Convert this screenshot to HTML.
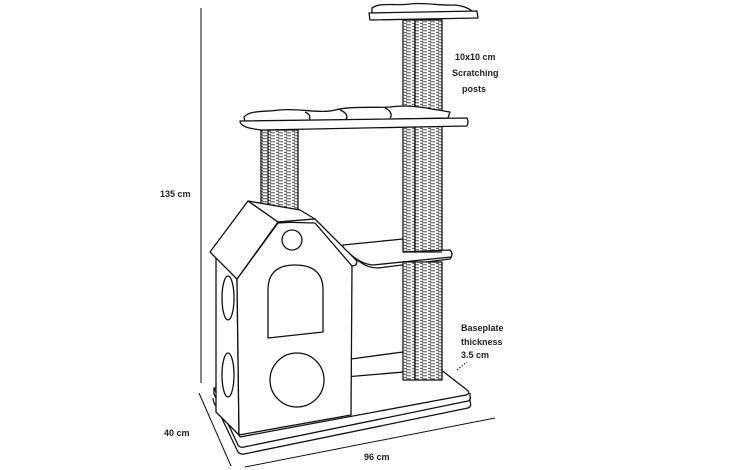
<!DOCTYPE html>
<html><head><meta charset="utf-8"><style>
html,body{margin:0;padding:0;background:#fff;width:730px;height:470px;overflow:hidden}
text{font-family:"Liberation Sans",sans-serif;font-weight:bold;font-size:9px;fill:#222}
</style></head><body>
<svg width="730" height="470" viewBox="0 0 730 470" xmlns="http://www.w3.org/2000/svg">
<defs>
<pattern id="rope" width="8" height="3" patternUnits="userSpaceOnUse">
<rect width="8" height="3" fill="#fff"/>
<path d="M0 0.8h3M4 2.3h3M6 0.8h2" stroke="#333" stroke-width="0.9"/>
</pattern>
</defs>
<g fill="none" stroke="#111" stroke-width="1.3" stroke-linejoin="round">
<line x1="201" y1="8" x2="201" y2="383" stroke-width="1"/>
<line x1="199" y1="393" x2="231" y2="466" stroke-width="1"/>
<line x1="245" y1="467" x2="495" y2="418" stroke-width="1"/>
<line x1="457" y1="370" x2="467" y2="362" stroke-dasharray="1.5 1.5" stroke-width="1"/>
<path d="M213 398 Q213 402 216 406 L237 450 Q239 455 244 454 L468 408 Q472 406 470 402 L470 396" fill="#fff"/>
<path d="M214 388 L214 394 L238 445 Q240 448 244 447 L468 401 Q471 400 470 396 L470 393" fill="#fff"/>
<path d="M214 388 L240 437 L466 395 Q471 393 467 390 L440 369 L214 388 Z" fill="#fff"/>
<path d="M351 359 L403 352"/>
<path d="M372 8 C380 2 395 6 410 4 C425 2 440 6 455 5 C465 6 472 10 472 12 L372 13 Z" fill="#fff"/>
<path d="M369 13 L477 11 L478 18 L370 20 Z" fill="#fff"/>
<rect x="403" y="20" width="39" height="232" fill="url(#rope)"/>
<line x1="415" y1="20" x2="415" y2="252"/>
<rect x="261" y="130" width="37" height="82" fill="url(#rope)"/>
<line x1="268" y1="130" x2="268" y2="212"/>
<path d="M244 117 C250 110 265 112 280 110 C300 108 320 114 335 110 C350 106 370 108 390 107 C410 104 425 108 450 112 L448 118 L245 122 Z" fill="#fff"/>
<path d="M305 112 C312 115 310 120 308 121 M340 110 C348 113 348 118 345 120 M385 108 C392 111 392 116 390 118"/>
<path d="M240 121 L467 118 Q469 122 467 126 L262 130 Q240 128 240 121 Z" fill="#fff"/>
<path d="M343 245 L403 239 L403 252 L450 250 Q454 254 450 259 L378 268 Q368 268 360 262 L343 250 Z" fill="#fff"/>
<path d="M348 252 Q360 264 373 265 L451 257"/>
<line x1="403" y1="252" x2="442" y2="252"/>
<rect x="403" y="262" width="39" height="118" fill="url(#rope)"/>
<line x1="415" y1="262" x2="415" y2="380"/>
<path d="M216 256 L237 279 L239 435 L216 412 Z" fill="#fff"/>
<ellipse cx="228" cy="298" rx="6" ry="22" fill="#fff"/>
<ellipse cx="228" cy="375" rx="6" ry="22" fill="#fff"/>
<path d="M237 279 L278 223 L315 221 L352 265 L351 415 L239 435 Z" fill="#fff"/>
<path d="M248 201 L300 210 L315 219 L278 222 Z" fill="#fff"/>
<path d="M210 252 L248 201 L278 222 L237 279 Z" fill="#fff"/>
<path d="M278 222 L315 219 L357 261 L356 265 L352 266 L315 223 Z" fill="#fff"/>
<circle cx="292" cy="240" r="10" fill="#fff"/>
<path d="M268 338 L268 290 Q268 265 295 265 Q323 265 323 290 L323 332 Z" fill="#fff"/>
<circle cx="297" cy="380" r="27" fill="#fff"/>
</g>
<text x="160" y="197">135 cm</text>
<text x="164" y="436">40 cm</text>
<text x="364" y="460">96 cm</text>
<text x="455" y="60">10x10 cm</text>
<text x="452" y="76">Scratching</text>
<text x="462" y="92">posts</text>
<text x="461" y="331">Baseplate</text>
<text x="461" y="345">thickness</text>
<text x="461" y="358">3.5 cm</text>
</svg>
</body></html>
